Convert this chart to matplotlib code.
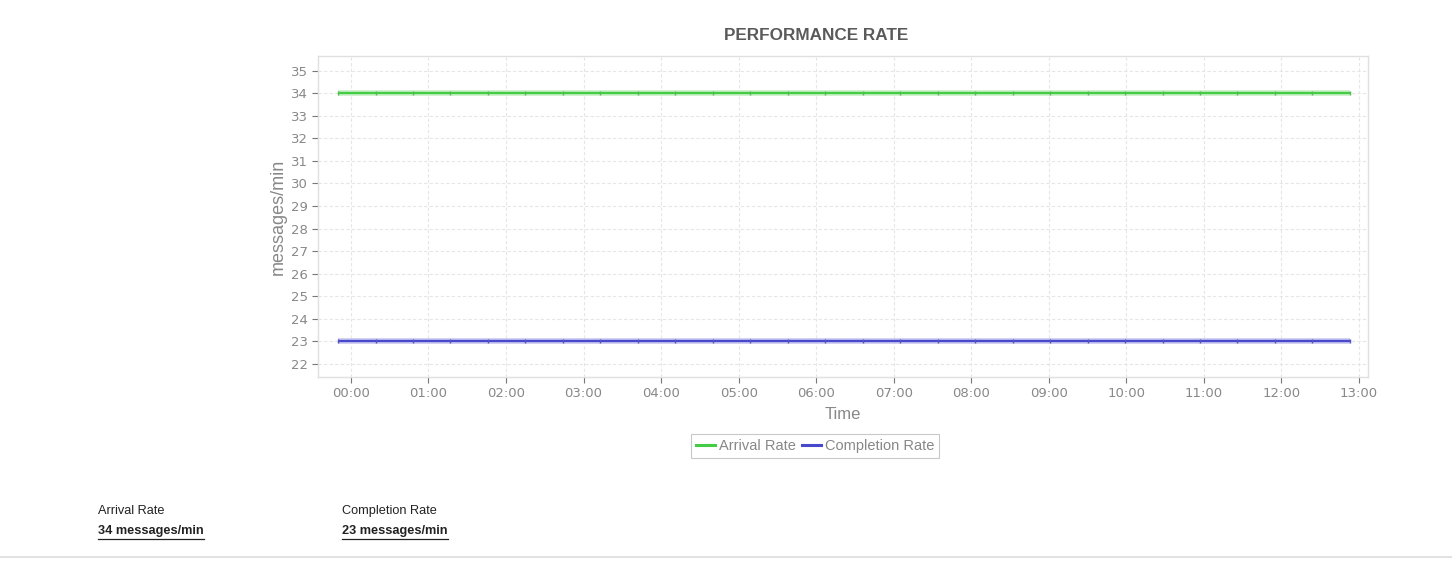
import numpy as np
import pandas as pd
import matplotlib
matplotlib.use("Agg")
import matplotlib.pyplot as plt
import matplotlib.dates as mdates
from matplotlib.lines import Line2D

# sample times (every ~29 min, starting 23:50 the previous day)
times = pd.date_range("2024-01-01 23:50", periods=28, freq="29min")
arrival = [34, 34, 34, 34, 34, 34, 34, 34, 34, 34, 34, 34, 34, 34,
           34, 34, 34, 34, 34, 34, 34, 34, 34, 34, 34, 34, 34, 34]
completion = [23, 23, 23, 23, 23, 23, 23, 23, 23, 23, 23, 23, 23, 23,
              23, 23, 23, 23, 23, 23, 23, 23, 23, 23, 23, 23, 23, 23]
y_ticks = list(range(22, 36))
x_ticks = pd.date_range("2024-01-02 00:00", periods=14, freq="1h")

W, H = 1452, 561
fig = plt.figure(figsize=(W / 100, H / 100), dpi=100)
plt.rcParams["font.family"] = ["Liberation Sans", "DejaVu Sans"]

ax = fig.add_axes([318 / W, 1 - 377 / H, (1368 - 318) / W, (377 - 56) / H])

ax.plot(times, arrival, color="#c4eec4", lw=4, solid_capstyle="butt", zorder=2)
ax.plot(times, arrival, color="#44cc44", lw=1.6, marker="|", ms=3, mew=1,
        mec="#55bb55", solid_capstyle="butt", zorder=3, label="Arrival Rate")
ax.plot(times, completion, color="#c4c4ee", lw=4, solid_capstyle="butt", zorder=2)
ax.plot(times, completion, color="#4848cc", lw=1.6, marker="|", ms=3, mew=1,
        mec="#5555bb", solid_capstyle="butt", zorder=3, label="Completion Rate")

x0 = pd.Timestamp("2024-01-02 00:00")
ax.set_xlim(x0 - pd.Timedelta(minutes=25.5), x0 + pd.Timedelta(minutes=787))
ax.set_ylim(21.42, 35.65)
ax.set_yticks(y_ticks)
ax.set_xticks(x_ticks)
ax.xaxis.set_major_formatter(mdates.DateFormatter("%H:%M"))

ax.grid(True, color="#e6e6e6", linestyle=(0, (3, 2)), linewidth=0.8)
ax.set_axisbelow(True)
for s in ax.spines.values():
    s.set_color("#e0e0e0")
    s.set_linewidth(1)
ax.tick_params(colors="#777777", labelcolor="#888888",
               length=4, width=0.8, pad=3)
for lab in ax.get_xticklabels():
    lab.set_fontfamily("DejaVu Sans")
    lab.set_fontsize(9.5)
for lab in ax.get_yticklabels():
    lab.set_fontfamily("DejaVu Sans")
    lab.set_fontsize(9.5)

ax.set_xlabel("Time", color="#888888", fontsize=12, labelpad=5)
ax.set_ylabel("messages/min", color="#888888", fontsize=13, labelpad=3)

fig.text(816 / W, 1 - 36 / H, "PERFORMANCE RATE", ha="center", va="center",
         fontsize=12.3, fontweight="bold", color="#5a5a5a")

leg = fig.legend(handles=[Line2D([0], [0], color="#44cc44", lw=2.2),
                          Line2D([0], [0], color="#4848cc", lw=2.2)],
                 labels=["Arrival Rate", "Completion Rate"],
                 loc="center", bbox_to_anchor=(815 / W, 1 - 446 / H), ncol=2,
                 fontsize=10.5, frameon=True, fancybox=False, handlelength=1.3,
                 handletextpad=0.3, columnspacing=0.4, borderpad=0.35,
                 labelcolor="#888888")
leg.get_frame().set_edgecolor("#bbbbbb")
leg.get_frame().set_linewidth(0.8)

# summary below the chart
labels = ["Arrival Rate", "Completion Rate"]
values = ["34 messages/min", "23 messages/min"]
xs = [98, 342]
renderer = fig.canvas.get_renderer()
for x, lab, val in zip(xs, labels, values):
    fig.text(x / W, 1 - 511 / H, lab, ha="left", va="center",
             fontsize=9.2, color="#222222")
    t = fig.text(x / W, 1 - 531 / H, val, ha="left", va="center",
                 fontsize=9.2, fontweight="bold", color="#222222")
    bb = t.get_window_extent(renderer)
    uy = 1 - 539 / H
    fig.add_artist(Line2D([bb.x0 / W, bb.x1 / W], [uy, uy], color="#222222",
                          lw=0.9, transform=fig.transFigure))

fig.add_artist(Line2D([0, 1], [1 - 557 / H, 1 - 557 / H], color="#dddddd",
                      lw=1.2, transform=fig.transFigure))

fig.savefig("out.png", dpi=100)
